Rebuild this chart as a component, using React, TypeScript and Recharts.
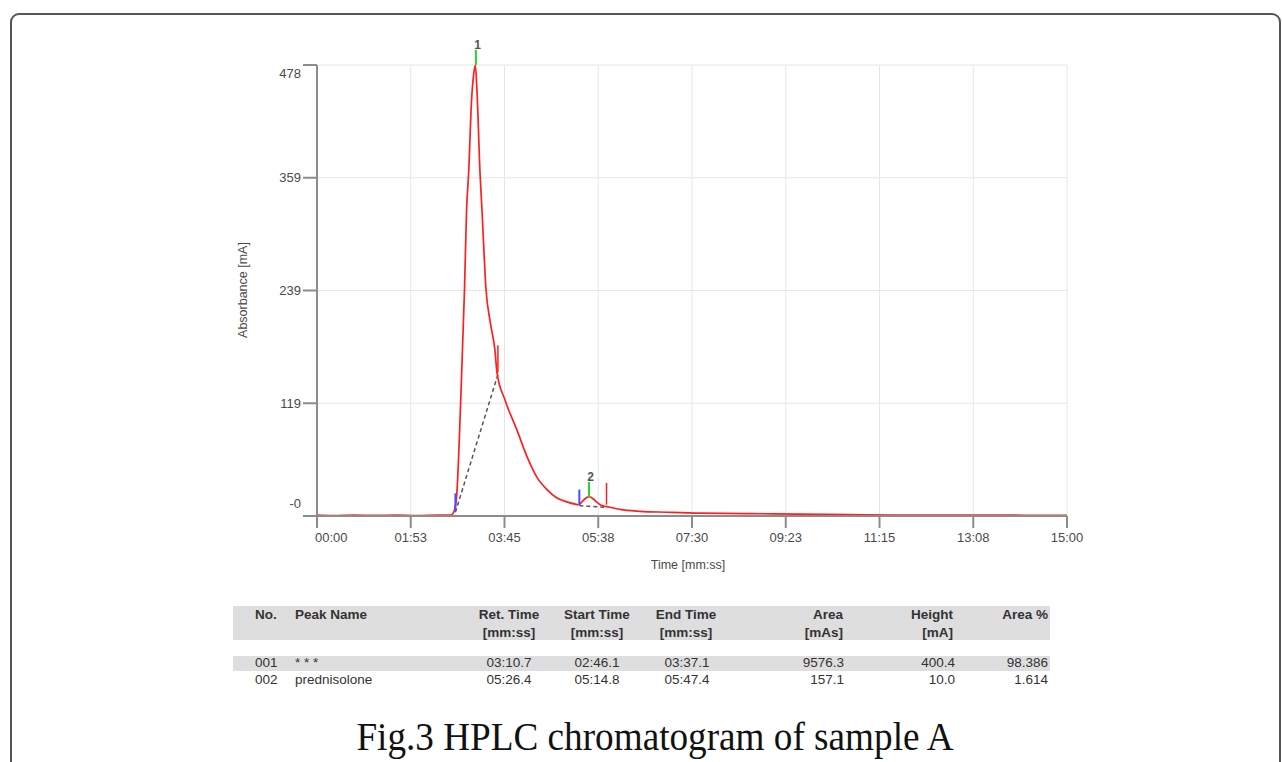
import React from 'react';
import {
  LineChart,
  Line,
  XAxis,
  YAxis,
  CartesianGrid,
  ReferenceLine,
  ReferenceDot,
} from 'recharts';

// chromatogram trace, seconds / mA
const times = [
  0, 20, 45, 70, 95, 120, 145, 161, 163.5, 165.5, 167.5, 172.5, 177, 179.5, 182, 185.5, 188, 190,
  192, 195.6, 198, 202.8, 208, 213.6, 216, 225.6, 240, 252, 264, 276, 288, 300, 310, 314, 318, 322,
  326.4, 331, 336, 341, 348, 363.6, 387.6, 420, 459.6, 520, 579.6, 640, 699.6, 780, 850, 900,
];
const absorbance = [
  1, 0.5, 1, 0.6, 1, 0.5, 1, 1, 3, 8, 20, 123, 240, 324, 364, 441, 468, 478,
  450, 364, 324, 240, 205, 175, 152, 123, 91, 63, 41, 28, 19, 15, 12.5, 12, 15, 18.5,
  20.5, 18.5, 14.5, 11.5, 10, 7, 5, 4, 3, 2.5, 2, 1.5, 1, 1, 0.8, 0.8,
];

// peak table
const peakNo = ['001', '002'];
const peakLabel = ['1', '2'];
const peakName = ['* * *', 'prednisolone'];
const retTime = [190.7, 326.4];
const startTime = [166.1, 314.8];
const endTime = [217.1, 347.4];
const areaText = ['9576.3', '157.1'];
const heightText = ['400.4', '10.0'];
const areaPctText = ['98.386', '1.614'];
const retText = ['03:10.7', '05:26.4'];
const startText = ['02:46.1', '05:14.8'];
const endText = ['03:37.1', '05:47.4'];

// integration baselines and marker extents (mA)
const baseStartVal = [4, 11];
const baseEndVal = [150, 9];
const startMark = [[6, 24], [12, 28]];
const apexMark = [[478, 494], [20, 36]];
const endMark = [[152, 181], [12, 35]];

const xTicks = [0, 112.5, 225, 337.5, 450, 562.5, 675, 787.5, 900];
const yTicks = [0, 119.5, 239, 358.5, 478];
const yTickLabels = ['-0', '119', '239', '359', '478'];

const data = times.map((t, i) => ({ t, v: absorbance[i] }));
const baselines = startTime.map((s, i) => [
  { t: s, v: baseStartVal[i] },
  { t: endTime[i], v: baseEndVal[i] },
]);

const mmss = (s: number) => {
  const r = Math.round(s);
  const m = Math.floor(r / 60);
  const sec = r % 60;
  return `${String(m).padStart(2, '0')}:${String(sec).padStart(2, '0')}`;
};

const AXIS = '#8c8c8c';
const TXT = '#4a4a4a';

const XTick = (props: any) => {
  const { x, y, payload, index } = props;
  return (
    <text
      x={index === 0 ? x - 2 : x}
      y={y}
      dy="0.8em"
      textAnchor={index === 0 ? 'start' : 'middle'}
      fontSize={13}
      fontFamily="Liberation Sans, Arial, sans-serif"
      fill={TXT}
    >
      {mmss(payload.value)}
    </text>
  );
};

const YTick = (props: any) => {
  const { x, y, index } = props;
  let shift = 0;
  if (index === 0) shift = -13;
  if (index === yTicks.length - 1) shift = 8;
  return (
    <text
      x={x}
      y={y + shift}
      dy="0.36em"
      textAnchor="end"
      fontSize={13}
      fontFamily="Liberation Sans, Arial, sans-serif"
      fill={TXT}
    >
      {yTickLabels[index]}
    </text>
  );
};

const cell: React.CSSProperties = {
  position: 'absolute',
  fontFamily: 'Liberation Sans, Arial, sans-serif',
  fontSize: 13.5,
  lineHeight: '16px',
  color: '#333',
  whiteSpace: 'nowrap',
};

const Txt = ({ x, y, align, bold, children }: any) => {
  const style: React.CSSProperties = { ...cell, top: y - 8, fontWeight: bold ? 700 : 400 };
  if (align === 'left') {
    style.left = x;
  } else if (align === 'right') {
    style.left = x - 200;
    style.width = 200;
    style.textAlign = 'right';
  } else {
    style.left = x - 100;
    style.width = 200;
    style.textAlign = 'center';
  }
  return <div style={style}>{children}</div>;
};

const App = () => {
  return (
    <div
      style={{
        position: 'fixed',
        left: 0,
        top: 0,
        width: 1282,
        height: 762,
        overflow: 'hidden',
        background: '#fff',
      }}
    >
      {/* figure frame */}
      <div
        style={{
          position: 'absolute',
          left: 10,
          top: 13,
          width: 1271,
          height: 820,
          border: '2px solid #555',
          borderRadius: 9,
          boxSizing: 'border-box',
        }}
      />

      <div style={{ position: 'absolute', left: 0, top: 0 }}>
        <LineChart
          width={1282}
          height={600}
          data={data}
          margin={{ top: 65, right: 215, left: 257, bottom: 34 }}
        >
          <CartesianGrid stroke="#e6e6e6" strokeWidth={1} />
          <XAxis
            type="number"
            dataKey="t"
            domain={[0, 900]}
            ticks={xTicks}
            height={50}
            axisLine={{ stroke: AXIS, strokeWidth: 2 }}
            tickLine={{ stroke: AXIS, strokeWidth: 2 }}
            tickSize={12}
            tickMargin={4}
            tick={<XTick />}
            interval={0}
          />
          <YAxis
            type="number"
            domain={[0, 478]}
            ticks={yTicks}
            width={60}
            axisLine={{ stroke: AXIS, strokeWidth: 2 }}
            tickLine={{ stroke: AXIS, strokeWidth: 2 }}
            tickSize={14}
            tickMargin={2}
            tick={<YTick />}
            interval={0}
          />
          {baselines.map((b, i) => (
            <Line
              key={`base-${i}`}
              data={b}
              dataKey="v"
              type="linear"
              stroke="#555"
              strokeWidth={1.5}
              strokeDasharray="4 3"
              dot={false}
              isAnimationActive={false}
            />
          ))}
          <Line
            dataKey="v"
            type="monotone"
            stroke="#ff1f1f"
            strokeWidth={1.7}
            dot={false}
            isAnimationActive={false}
          />
          {startTime.map((s, i) => (
            <ReferenceLine
              key={`s-${i}`}
              segment={[{ x: s, y: startMark[i][0] }, { x: s, y: startMark[i][1] }]}
              stroke="#4b4bff"
              strokeWidth={2}
              ifOverflow="visible"
            />
          ))}
          {retTime.map((r, i) => (
            <ReferenceLine
              key={`a-${i}`}
              segment={[{ x: r, y: apexMark[i][0] }, { x: r, y: apexMark[i][1] }]}
              stroke="#2fd12f"
              strokeWidth={2}
              ifOverflow="visible"
            />
          ))}
          {endTime.map((e, i) => (
            <ReferenceLine
              key={`e-${i}`}
              segment={[{ x: e, y: endMark[i][0] }, { x: e, y: endMark[i][1] }]}
              stroke="#ff1f1f"
              strokeWidth={1.5}
              ifOverflow="visible"
            />
          ))}
          {retTime.map((r, i) => (
            <ReferenceDot
              key={`l-${i}`}
              x={r + 2}
              y={apexMark[i][1]}
              r={0}
              fill="none"
              stroke="none"
              ifOverflow="visible"
              label={{
                value: peakLabel[i],
                position: 'top',
                offset: 1,
                fontSize: 12,
                fontWeight: 700,
                fill: '#555',
                fontFamily: 'Liberation Sans, Arial, sans-serif',
              }}
            />
          ))}
        </LineChart>
      </div>

      {/* axis titles */}
      <div
        style={{
          ...cell,
          fontSize: 12.5,
          color: TXT,
          left: 243 - 60,
          top: 290 - 8,
          width: 120,
          textAlign: 'center',
          transform: 'rotate(-90deg)',
        }}
      >
        Absorbance [mA]
      </div>
      <div style={{ ...cell, fontSize: 12.5, color: TXT, left: 588, top: 557, width: 200, textAlign: 'center' }}>
        Time [mm:ss]
      </div>

      {/* peak table */}
      <div style={{ position: 'absolute', left: 233, top: 606, width: 817, height: 34, background: '#dedede' }} />
      <div style={{ position: 'absolute', left: 233, top: 656, width: 817, height: 15, background: '#dedede' }} />

      <Txt x={255} y={615} align="left" bold>No.</Txt>
      <Txt x={295} y={615} align="left" bold>Peak Name</Txt>
      <Txt x={509} y={615} bold>Ret. Time</Txt>
      <Txt x={509} y={633} bold>[mm:ss]</Txt>
      <Txt x={597} y={615} bold>Start Time</Txt>
      <Txt x={597} y={633} bold>[mm:ss]</Txt>
      <Txt x={686} y={615} bold>End Time</Txt>
      <Txt x={686} y={633} bold>[mm:ss]</Txt>
      <Txt x={843} y={615} align="right" bold>Area</Txt>
      <Txt x={843} y={633} align="right" bold>[mAs]</Txt>
      <Txt x={953} y={615} align="right" bold>Height</Txt>
      <Txt x={953} y={633} align="right" bold>[mA]</Txt>
      <Txt x={1048} y={615} align="right" bold>Area %</Txt>

      {peakNo.map((n, i) => {
        const y = 663 + i * 17;
        return (
          <React.Fragment key={n}>
            <Txt x={255} y={y} align="left">{n}</Txt>
            <Txt x={295} y={y} align="left">{peakName[i]}</Txt>
            <Txt x={509} y={y}>{retText[i]}</Txt>
            <Txt x={597} y={y}>{startText[i]}</Txt>
            <Txt x={687} y={y}>{endText[i]}</Txt>
            <Txt x={844} y={y} align="right">{areaText[i]}</Txt>
            <Txt x={955} y={y} align="right">{heightText[i]}</Txt>
            <Txt x={1048} y={y} align="right">{areaPctText[i]}</Txt>
          </React.Fragment>
        );
      })}

      {/* caption */}
      <div
        style={{
          position: 'absolute',
          left: 0,
          top: 717,
          width: 1310,
          textAlign: 'center',
          fontFamily: 'Liberation Serif, Times New Roman, serif',
          fontSize: 40,
          lineHeight: '40px',
          color: '#111',
          transform: 'scaleX(0.93)',
          whiteSpace: 'nowrap',
        }}
      >
        Fig.3 HPLC chromatogram of sample A
      </div>
    </div>
  );
};

export default App;
